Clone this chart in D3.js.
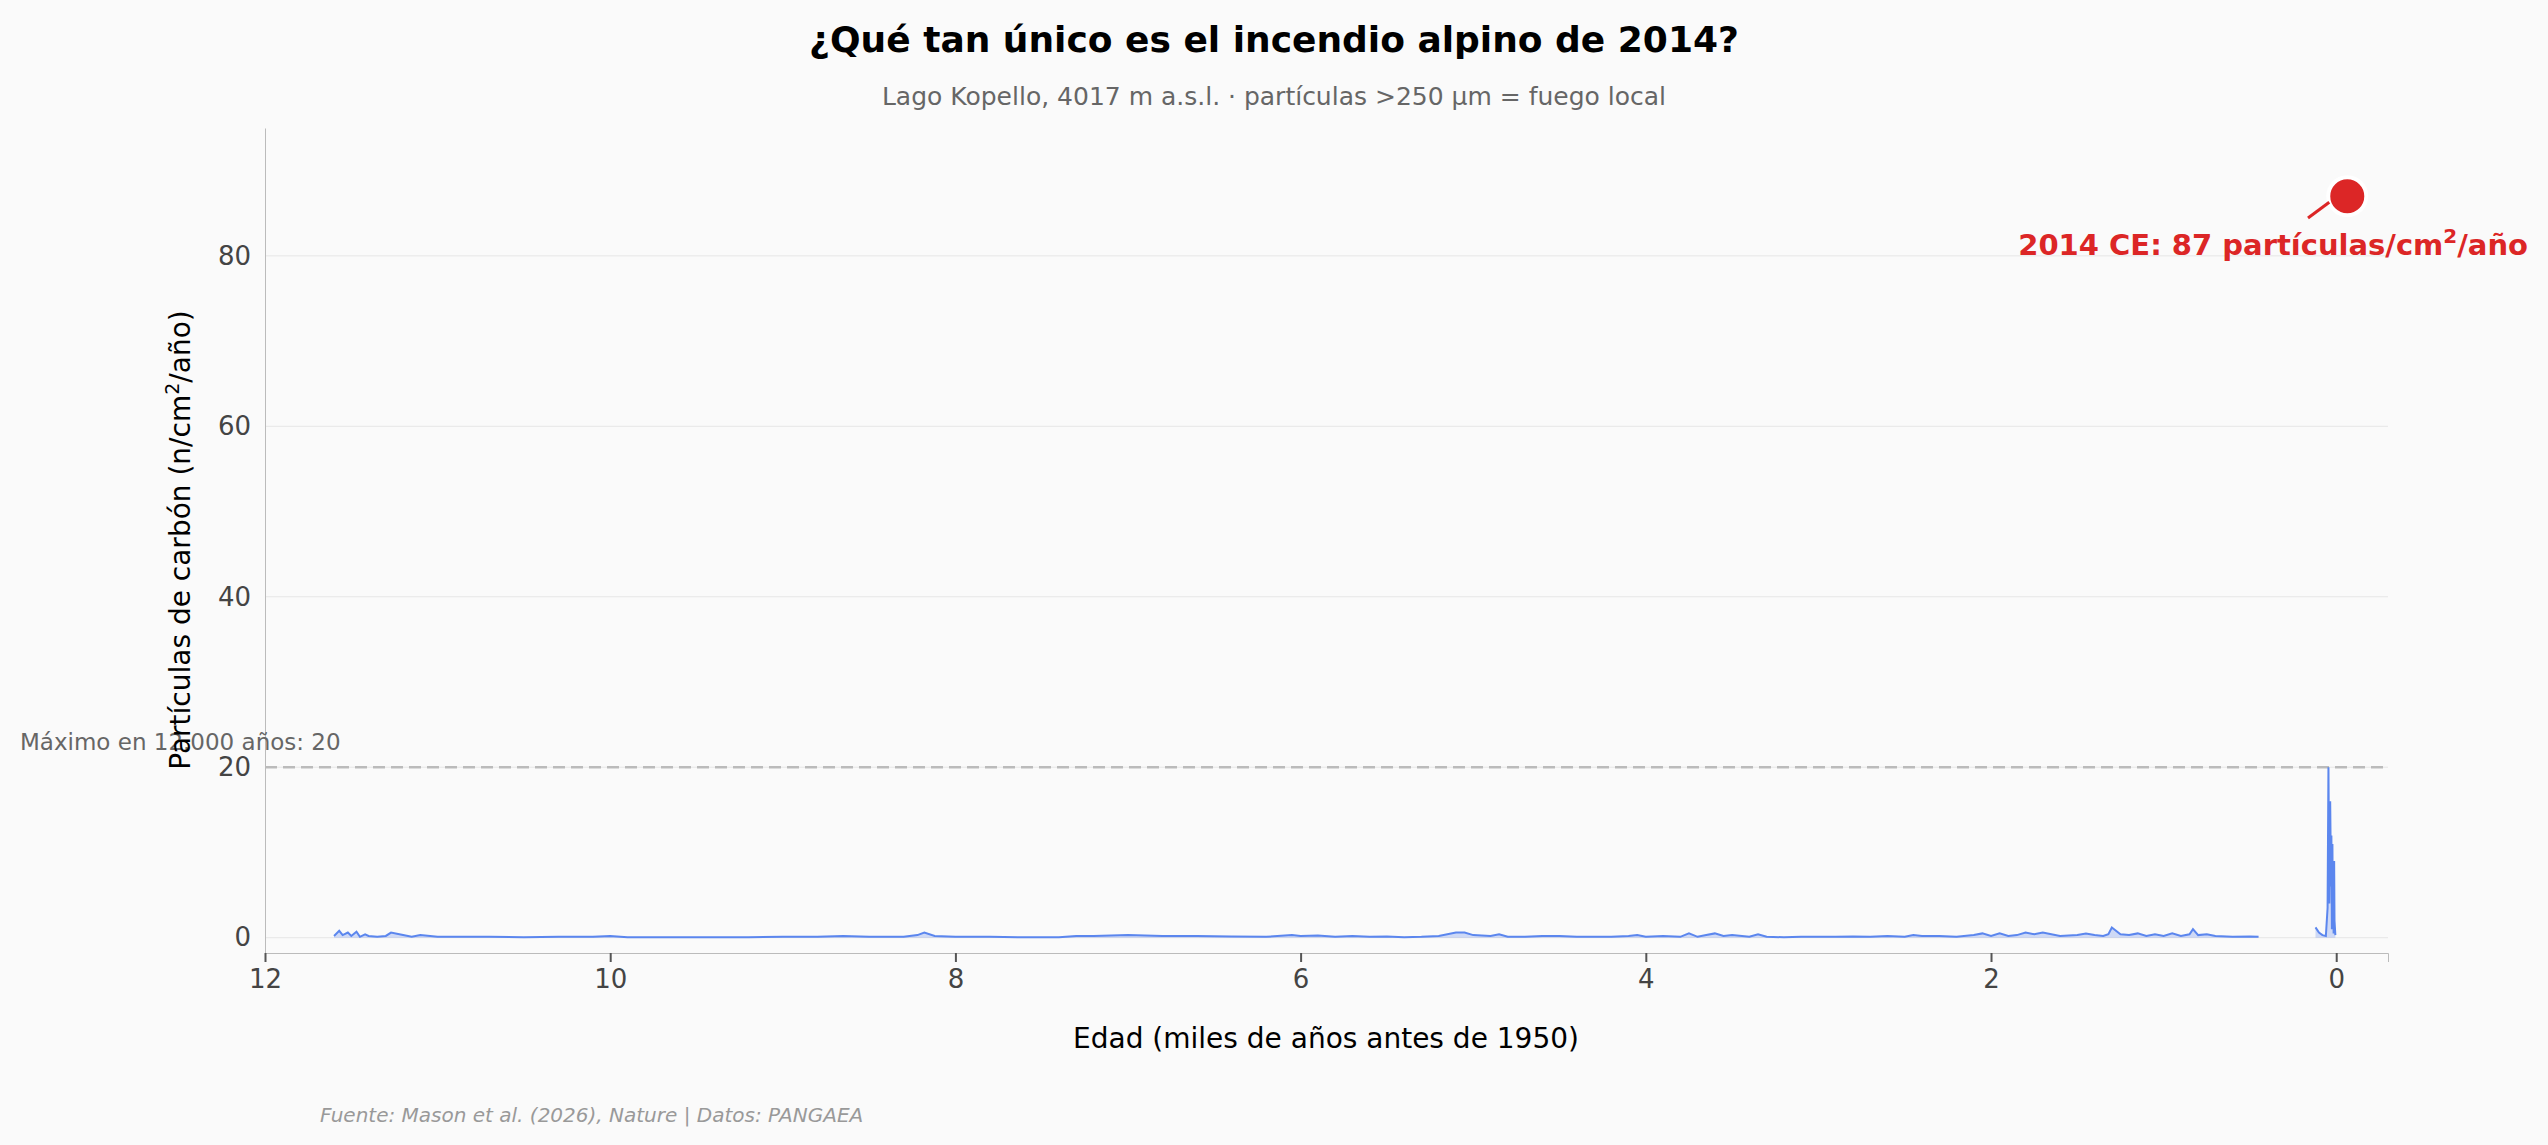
<!DOCTYPE html>
<html><head><meta charset="utf-8">
<script src="https://cdn.jsdelivr.net/npm/d3@7"></script>
<style>body{margin:0;background:#fafafa;font-family:"DejaVu Sans",sans-serif}</style>
</head><body><svg id="c" width="2548" height="1145"></svg>
<script>
// edad (ka antes de 1950) y carbón (n/cm2/año)
const ages = [11.6,11.57,11.55,11.52,11.5,11.47,11.45,11.42,11.4,11.35,11.3,11.27,11.2,11.15,11.1,11.0,10.9,10.7,10.5,10.3,10.1,10.0,9.9,9.8,9.6,9.4,9.2,9.0,8.8,8.65,8.5,8.3,8.22,8.18,8.12,8.0,7.8,7.6,7.4,7.3,7.2,7.0,6.8,6.6,6.4,6.2,6.05,6.0,5.9,5.8,5.7,5.6,5.5,5.4,5.3,5.2,5.1,5.05,5.0,4.9,4.85,4.8,4.7,4.6,4.5,4.4,4.3,4.2,4.1,4.05,4.0,3.9,3.8,3.75,3.7,3.65,3.6,3.55,3.5,3.4,3.35,3.3,3.2,3.1,3.0,2.9,2.8,2.7,2.6,2.5,2.45,2.4,2.3,2.2,2.1,2.05,2.0,1.95,1.9,1.85,1.8,1.75,1.7,1.6,1.5,1.45,1.4,1.35,1.32,1.3,1.25,1.2,1.15,1.1,1.05,1.0,0.95,0.9,0.85,0.83,0.8,0.75,0.7,0.6,0.5,0.45];
const charcoal = [0.2,0.8,0.3,0.6,0.2,0.7,0.1,0.4,0.2,0.1,0.2,0.6,0.3,0.1,0.3,0.1,0.1,0.1,0.05,0.1,0.1,0.2,0.05,0.05,0.05,0.05,0.05,0.1,0.1,0.2,0.1,0.1,0.3,0.6,0.2,0.1,0.1,0.05,0.05,0.2,0.2,0.3,0.2,0.2,0.15,0.1,0.3,0.2,0.25,0.1,0.2,0.1,0.15,0.05,0.1,0.2,0.6,0.6,0.3,0.2,0.4,0.1,0.1,0.2,0.2,0.1,0.1,0.1,0.2,0.3,0.1,0.2,0.1,0.5,0.1,0.3,0.5,0.2,0.3,0.1,0.4,0.1,0.05,0.1,0.1,0.1,0.15,0.1,0.2,0.1,0.3,0.2,0.2,0.1,0.3,0.5,0.2,0.5,0.2,0.3,0.6,0.4,0.6,0.2,0.3,0.5,0.3,0.2,0.4,1.2,0.4,0.3,0.5,0.2,0.4,0.2,0.5,0.2,0.4,1.0,0.3,0.4,0.2,0.1,0.15,0.1];
const spikeAges = [0.12,0.1,0.08,0.06,0.05,0.045,0.04,0.035,0.03,0.028,0.025,0.022,0.02,0.018,0.015,0.012,0.01,0.005];
const spikeVals = [1.2,0.6,0.3,0.2,3.5,20,4,16,6,12,1,11,3,8,0.5,9,2,0.3];
const fireAge = -0.064, fireVal = 87, histMax = 20;
const yTicks = [0,20,40,60,80], xTicks = [12,10,8,6,4,2,0];

const svg = d3.select('#c');
const x = d3.scaleLinear().domain([12,-0.3]).range([265,2388]);
const y = d3.scaleLinear().domain([-1.8,95]).range([953,128]);
const F = '"DejaVu Sans",sans-serif';

svg.append('text').attr('x',1274).attr('y',52).attr('text-anchor','middle').attr('font-size',36).attr('font-weight','bold').text('¿Qué tan único es el incendio alpino de 2014?');
svg.append('text').attr('x',1274).attr('y',105).attr('text-anchor','middle').attr('font-size',25).attr('fill','#666').text('Lago Kopello, 4017 m a.s.l. · partículas >250 µm = fuego local');

// grid
svg.append('g').selectAll('line').data(yTicks).join('line')
  .attr('x1',265).attr('x2',2388).attr('y1',d=>y(d)).attr('y2',d=>y(d)).attr('stroke','#e6e6e6').attr('stroke-width',1);

const yAx = svg.append('g').attr('transform','translate(265,0)').call(d3.axisLeft(y).tickValues(yTicks).tickSize(0).tickPadding(14));
const xAx = svg.append('g').attr('transform','translate(0,953)').call(d3.axisBottom(x).tickValues(xTicks).tickSize(9).tickPadding(8));
[yAx,xAx].forEach(g=>{g.selectAll('text').attr('font-size',26).attr('fill','#444').attr('font-family',F);g.select('.domain').attr('stroke','#bbb');g.selectAll('.tick line').attr('stroke','#555').attr('stroke-width',2);});

svg.append('line').attr('x1',265).attr('x2',2388).attr('y1',y(histMax)).attr('y2',y(histMax)).attr('stroke','#bbb').attr('stroke-width',2.5).attr('stroke-dasharray','12,6');
svg.append('text').attr('x',20).attr('y',750).attr('font-size',23).attr('fill','#666').text('Máximo en 12.000 años: 20');

const area = d3.area().x(d=>x(d[0])).y0(y(0)).y1(d=>y(d[1]));
const line = d3.line().x(d=>x(d[0])).y(d=>y(d[1]));
const s1 = ages.map((a,i)=>[a,charcoal[i]]), s2 = spikeAges.map((a,i)=>[a,spikeVals[i]]);
[s1,s2].forEach(s=>{
  svg.append('path').attr('d',area(s)).attr('fill','#6b8ff0').attr('opacity',0.3);
  svg.append('path').attr('d',line(s)).attr('fill','none').attr('stroke','#5b86ee').attr('stroke-width',2);
});

// 2014 point
svg.append('circle').attr('cx',x(fireAge)).attr('cy',y(fireVal)).attr('r',19).attr('fill','#dc2626').attr('stroke','#fff').attr('stroke-width',4);
svg.append('line').attr('x1',2308).attr('y1',218).attr('x2',x(fireAge)-18).attr('y2',y(fireVal)+6).attr('stroke','#dc2626').attr('stroke-width',3);
const t = svg.append('text').attr('x',2528).attr('y',255).attr('text-anchor','end').attr('font-size',29).attr('font-weight','bold').attr('fill','#dc2626');
t.append('tspan').text('2014 CE: 87 partículas/cm');
t.append('tspan').attr('dy',-12).attr('font-size',20).text('2');
t.append('tspan').attr('dy',12).text('/año');

const yl = svg.append('text').attr('transform','translate(190,540) rotate(-90)').attr('text-anchor','middle').attr('font-size',28);
yl.append('tspan').text('Partículas de carbón (n/cm');
yl.append('tspan').attr('dy',-11).attr('font-size',19).text('2');
yl.append('tspan').attr('dy',11).text('/año)');
svg.append('text').attr('x',1326).attr('y',1048).attr('text-anchor','middle').attr('font-size',28).text('Edad (miles de años antes de 1950)');
svg.append('text').attr('x',320).attr('y',1122).attr('font-size',20).attr('font-style','italic').attr('fill','#999').text('Fuente: Mason et al. (2026), Nature | Datos: PANGAEA');
</script></body></html>
